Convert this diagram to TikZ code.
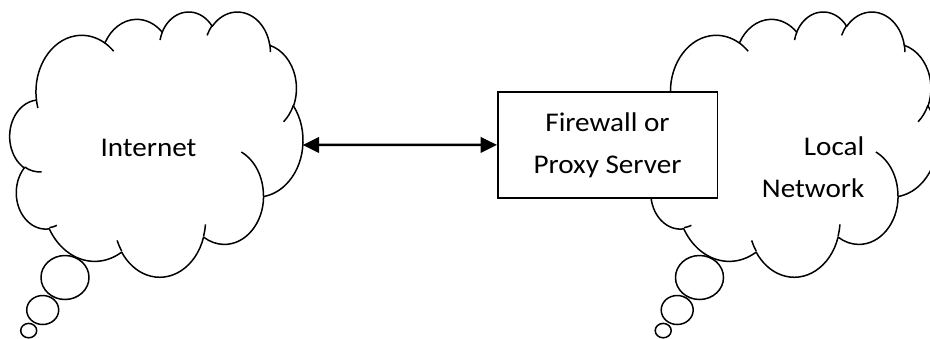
\documentclass[tikz,border=0pt]{standalone}
\usepackage{fontspec}
\setmainfont[FakeStretch=1.08]{Carlito}
\usetikzlibrary{arrows.meta}

% Elliptical arc given by radii, a visual start angle and a sweep (degrees,
% clockwise, y pointing down); stored as a style for TikZ's arc operation.
\newcommand\defcloudarc[5]{%
  \pgfmathsetmacro\cldA{atan2((#2)*sin(#4),(#3)*cos(#4))}%
  \pgfmathsetmacro\cldB{atan2((#2)*sin((#4)+(#5)),(#3)*cos((#4)+(#5)))}%
  \pgfmathsetmacro\cldD{mod(\cldB-(\cldA)+720,360)}%
  \pgfmathsetmacro\cldS{-(\cldA)}%
  \pgfmathsetmacro\cldE{-(\cldA)-(\cldD)}%
  \edef\cldTmp{\noexpand\tikzset{#1/.style={x radius=#2pt,y radius=#3pt,
      start angle=\cldS,end angle=\cldE}}}%
  \cldTmp}

% outline of the cloud
\defcloudarc{cldm1}{67.53}{91.90}{-190.4875}{123.7805}
\defcloudarc{cldm2}{53.33}{72.67}{-144.1024}{89.9452}
\defcloudarc{cldm3}{43.65}{59.45}{-145.8079}{99.7230}
\defcloudarc{cldm4}{48.57}{65.95}{-130.9861}{117.2417}
\defcloudarc{cldm5}{53.33}{72.73}{-78.7089}{109.0269}
\defcloudarc{cldm6}{67.75}{92.20}{-46.2673}{130.2690}
\defcloudarc{cldm7}{57.85}{78.67}{0.6250}{114.0333}
\defcloudarc{cldm8}{67.52}{92.15}{22.4516}{115.1726}
\defcloudarc{cldm9}{77.20}{105.43}{66.2426}{75.7110}
\defcloudarc{cldm10}{43.60}{59.18}{-274.9421}{146.7356}
\defcloudarc{cldm11}{43.45}{59.45}{-246.8285}{152.5189}
% short inner strokes between the puffs
\defcloudarc{cldi1}{43.45}{59.45}{86.7420}{26.4295}
\defcloudarc{cldi2}{43.60}{59.18}{73.6105}{11.4475}
\defcloudarc{cldi3}{67.52}{92.15}{137.6242}{14.0811}
\defcloudarc{cldi4}{67.52}{92.15}{6.4533}{15.9984}
\defcloudarc{cldi5}{57.85}{78.67}{-70.2924}{70.9174}
\defcloudarc{cldi6}{53.33}{72.73}{30.3180}{27.7515}
\defcloudarc{cldi7}{48.57}{65.95}{-13.7443}{14.8589}
\defcloudarc{cldi8}{48.57}{65.95}{-149.1815}{18.1954}
\defcloudarc{cldi9}{43.65}{59.45}{-163.4943}{17.6864}
\defcloudarc{cldi10}{67.53}{91.90}{-66.7070}{12.3194}
\defcloudarc{cldi11}{67.53}{91.90}{157.6544}{11.8582}

% one cloud in a 432 x 432 frame
\newcommand\cloudoutline{%
  \draw[outline] (39.00,143.70)
    arc[cldm1] arc[cldm2] arc[cldm3] arc[cldm4] arc[cldm5] arc[cldm6]
    arc[cldm7] arc[cldm8] arc[cldm9] arc[cldm10] arc[cldm11] -- cycle;
  \draw[outline]
    (46.93,261.77) arc[cldi1]
    (69.28,348.99) arc[cldi2]
    (164.78,390.90) arc[cldi3]
    (288.27,347.51) arc[cldi4]
    (341.29,229.54) arc[cldi5]
    (417.98,153.54) arc[cldi6]
    (383.24,54.26) arc[cldi7]
    (290.78,39.52) arc[cldi8]
    (221.41,47.20) arc[cldi9]
    (140.00,51.92) arc[cldi10]
    (41.27,157.89) arc[cldi11];
}

% the three thought bubbles below a cloud
\newcommand\thoughtbubbles[1]{%
  \begin{scope}[xshift=#1]
    \draw[outline] (65,277.5) ellipse[x radius=24pt, y radius=22pt];
    \draw[outline] (42.7,310) ellipse[x radius=16pt, y radius=14.5pt];
    \draw[outline] (28.7,330.6) ellipse[x radius=8pt, y radius=7.2pt];
  \end{scope}}

\begin{document}
\begin{tikzpicture}[x=1pt, y=-1pt,
    outline/.style={draw=black, line width=1.5pt, line join=round},
    label/.style={font=\fontsize{27}{42}\selectfont, inner sep=0pt, text=black},
    box/.style={draw=black, fill=white, line width=1.5pt, inner sep=0pt,
      minimum width=219.5pt, minimum height=106.3pt, align=center,
      font=\fontsize{27}{42}\selectfont},
    link/.style={line width=2.5pt, {Triangle[length=16.5pt,width=15.5pt]}-{Triangle[length=16.5pt,width=15.5pt]}}]
  \useasboundingbox (0,0) rectangle (930,338);
  \fill[white] (0,0) rectangle (930,338);

  % Internet cloud
  \begin{scope}[shift={(9.9,11.1)}, xscale=0.67824, yscale=0.61389]
    \cloudoutline
  \end{scope}
  \thoughtbubbles{0pt}
  \node[label, anchor=base] (internet) at (148.5,156) {Internet};

  % Local network cloud
  \begin{scope}[shift={(644.4,11.1)}, xscale=0.67824, yscale=0.61389]
    \cloudoutline
  \end{scope}
  \thoughtbubbles{634.5pt}
  \node[label, anchor=base east] (local) at (864.5,155) {Local};
  \node[label, anchor=base east] (network) at (864.5,197) {Network};

  % firewall box and the link to the Internet
  \node[box] (fw) at (607.5,144.9) {Firewall or\\Proxy Server};
  \coordinate (inet-edge) at (302.7,145);
  \draw[link] (inet-edge) -- (fw.west);
\end{tikzpicture}
\end{document}
